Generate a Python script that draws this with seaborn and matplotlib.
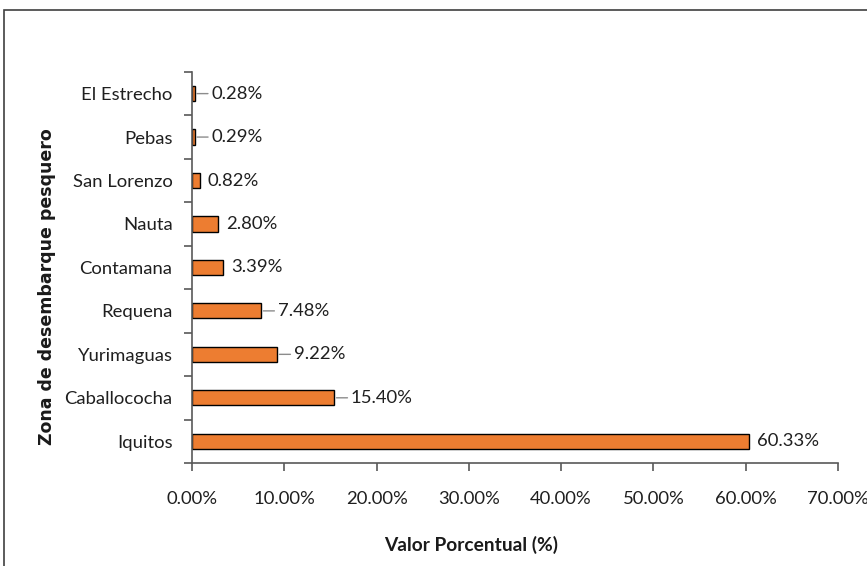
#!/usr/bin/env python3
"""
Zona de desembarque pesquero - valor porcentual por zona
Horizontal bar chart with percentage labels.
"""

import pandas as pd
import matplotlib.pyplot as plt
import seaborn as sns
from matplotlib.patches import Rectangle
from matplotlib.ticker import FuncFormatter

# ------------------------------------------------------------------
# Data
# ------------------------------------------------------------------
zonas = ["El Estrecho", "Pebas", "San Lorenzo", "Nauta", "Contamana",
         "Requena", "Yurimaguas", "Caballococha", "Iquitos"]
porcentajes = [0.28, 0.29, 0.82, 2.80, 3.39, 7.48, 9.22, 15.40, 60.33]
etiquetas = ["0.28%", "0.29%", "0.82%", "2.80%", "3.39%",
             "7.48%", "9.22%", "15.40%", "60.33%"]
con_guia = [True, True, False, False, False, True, True, True, False]

df = pd.DataFrame({"zona": zonas, "valor": porcentajes})

# ------------------------------------------------------------------
# Plot configuration
# ------------------------------------------------------------------
sns.set_style("white")
plt.rcParams["font.family"] = ["Lato", "DejaVu Sans"]

fig = plt.figure(figsize=(8.67, 5.66), dpi=100)
ax = fig.add_axes([0.2215, 0.182, 0.745, 0.691])

sns.barplot(data=df, y="zona", x="valor", order=zonas, orient="h",
            color="#ED7D31", saturation=1, width=0.35,
            edgecolor="black", linewidth=1, ax=ax)

ax.set_xlim(0, 70)
ax.set_ylim(8.5, -0.5)
ax.set_xticks(range(0, 71, 10))
ax.xaxis.set_major_formatter(FuncFormatter(lambda v, p: f"{v:.2f}%"))

# y ticks between the categories, labels centered on bars
ax.set_yticks([i + 0.5 for i in range(-1, 9)])
ax.set_yticklabels([])
ax.set_yticks(range(9), minor=True)
ax.set_yticklabels(zonas, minor=True)
ax.tick_params(axis="y", which="minor", left=True, length=0, pad=14,
               labelsize=13.3, labelcolor="#1f1f1f")
ax.tick_params(axis="y", which="major", left=True, length=6, width=1.2,
               color="#595959", direction="out")
ax.tick_params(axis="x", bottom=True, length=6, width=1.2, color="#595959",
               direction="out", pad=14, labelsize=13.3, labelcolor="#1f1f1f")

for side in ["top", "right"]:
    ax.spines[side].set_visible(False)
for side in ["left", "bottom"]:
    ax.spines[side].set_color("#595959")
    ax.spines[side].set_linewidth(1.2)

# value labels
for i, (v, txt, guia) in enumerate(zip(porcentajes, etiquetas, con_guia)):
    x_txt = v + 1.8 if guia else v + 0.9
    if guia:
        ax.annotate(txt, xy=(v + 0.1, i), xytext=(x_txt, i),
                    va="center", ha="left", fontsize=13.3, color="#1f1f1f",
                    arrowprops=dict(arrowstyle="-", color="#8c8c8c", lw=1,
                                    shrinkA=0, shrinkB=1))
    else:
        ax.text(x_txt, i, txt, va="center", ha="left",
                fontsize=13.3, color="#1f1f1f")

ax.set_xlabel("")
ax.set_ylabel("")
fig.text(0.054, 0.494, "Zona de desembarque pesquero", rotation=90,
         ha="center", va="center", fontsize=12.5, fontweight="bold",
         family="DejaVu Sans", color="#1a1a1a")
fig.text(0.543, 0.038, "Valor Porcentual (%)", ha="center", va="center",
         fontsize=13.8, fontweight="bold", color="#1a1a1a")

# chart area border (right/bottom edges fall outside the image)
fig.patches.append(Rectangle((0.005, -0.05), 1.2, 1.032,
                             transform=fig.transFigure, fill=False,
                             edgecolor="#404040", linewidth=1.2))

# ------------------------------------------------------------------
# Save figure
# ------------------------------------------------------------------
fig.savefig("out.png", dpi=100)
plt.close(fig)
